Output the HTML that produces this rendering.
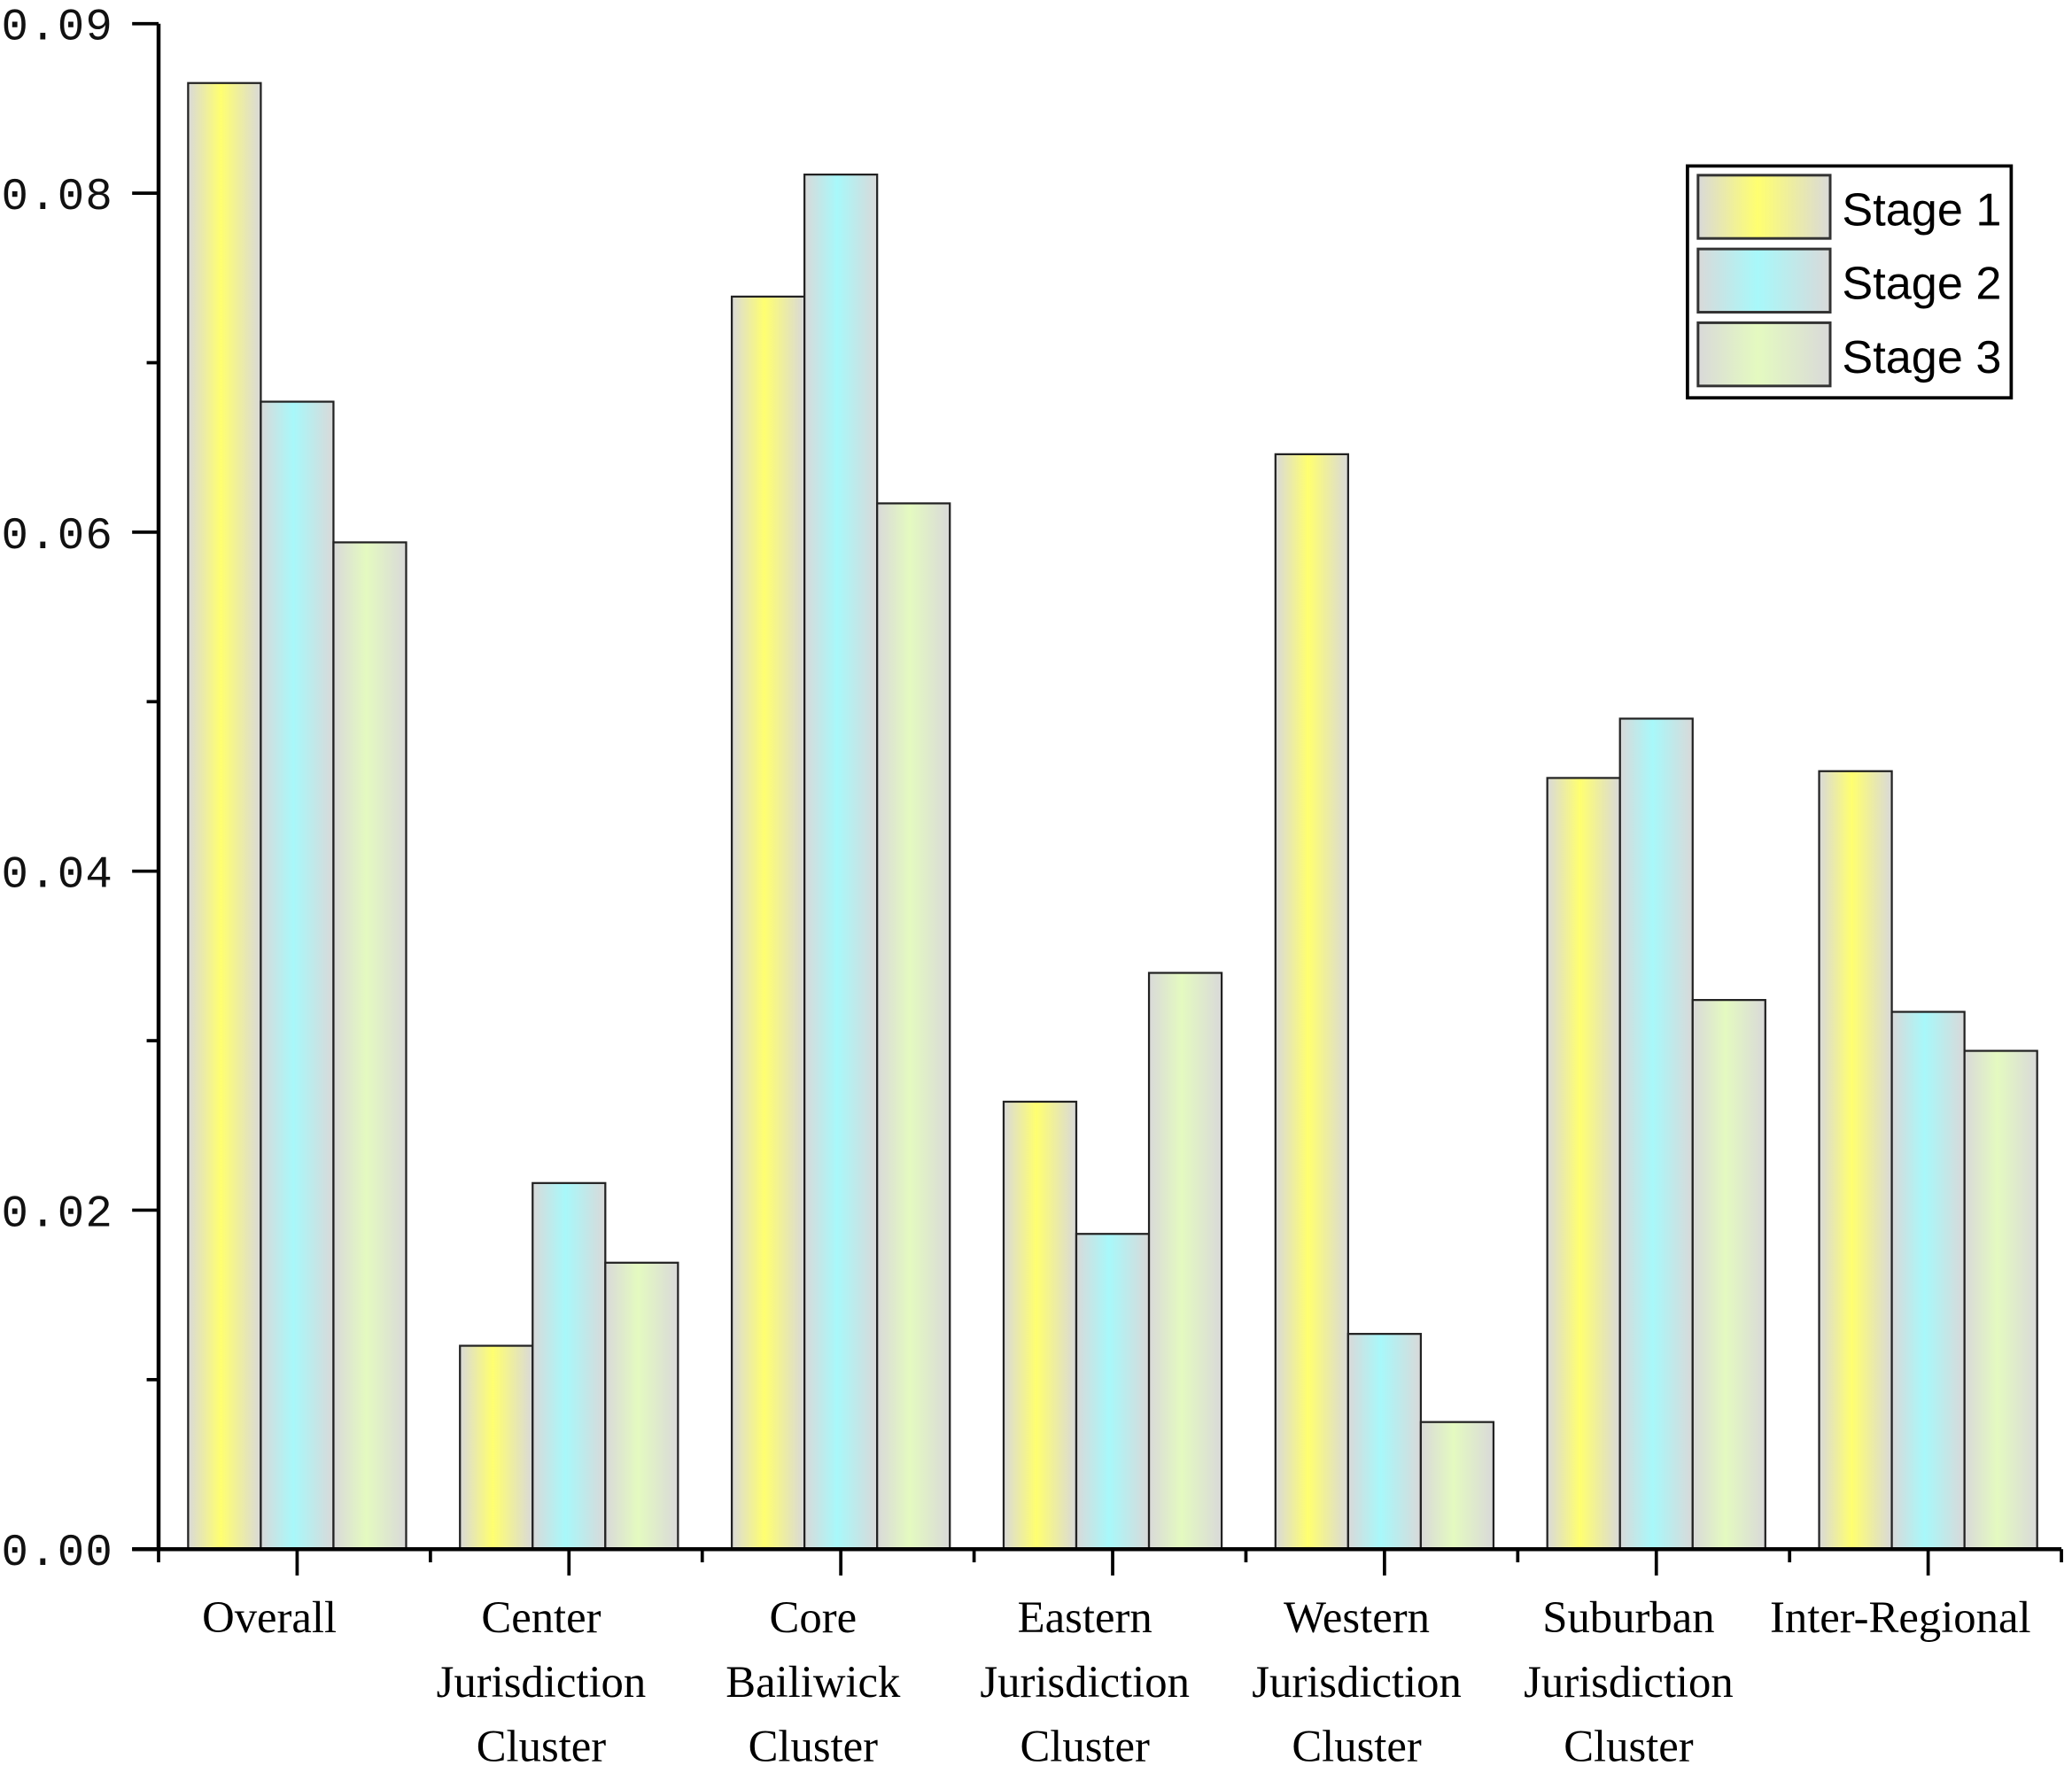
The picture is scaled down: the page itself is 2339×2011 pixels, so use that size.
<!DOCTYPE html>
<html><head><meta charset="utf-8"><style>
html,body{margin:0;padding:0;background:#fff;}
svg{display:block;}
</style></head><body>
<svg id="chart" width="2339" height="2011" viewBox="0 0 1568 1352" preserveAspectRatio="none" xmlns="http://www.w3.org/2000/svg">
<defs>
<linearGradient id="g0" x1="0" x2="1" y1="0" y2="0"><stop offset="0" stop-color="#d9d9d9"/><stop offset="0.45" stop-color="#ffff70"/><stop offset="1" stop-color="#d9d9d9"/></linearGradient>
<linearGradient id="g1" x1="0" x2="1" y1="0" y2="0"><stop offset="0" stop-color="#d9d9d9"/><stop offset="0.45" stop-color="#a8f8fa"/><stop offset="1" stop-color="#d9d9d9"/></linearGradient>
<linearGradient id="g2" x1="0" x2="1" y1="0" y2="0"><stop offset="0" stop-color="#d9d9d9"/><stop offset="0.45" stop-color="#e4fac0"/><stop offset="1" stop-color="#d9d9d9"/></linearGradient>
</defs>
<g id="bars"></g>
<g id="axes"></g>
<g id="legend">
<rect x="1277" y="126" width="245" height="176" fill="#fff" stroke="#000" stroke-width="2.5"/>
</g>
</svg>
<script>
const categories = [["Overall"],["Center","Jurisdiction","Cluster"],["Core","Bailiwick","Cluster"],["Eastern","Jurisdiction","Cluster"],["Western","Jurisdiction","Cluster"],["Suburban","Jurisdiction","Cluster"],["Inter-Regional"]];
const stage1 = [0.0865,0.0120,0.0739,0.0264,0.0646,0.0455,0.0459];
const stage2 = [0.0677,0.0216,0.0811,0.0186,0.0127,0.0490,0.0317];
const stage3 = [0.0594,0.0169,0.0617,0.0340,0.0075,0.0324,0.0294];
const seriesNames = ["Stage 1","Stage 2","Stage 3"];
const yTicks = ["0.00","0.02","0.04","0.06","0.08"];
const yTickValues = [0,0.02,0.04,0.06,0.08];

const NS="http://www.w3.org/2000/svg";
const X0=120, X1=1560, Y0=1176, YTOP=18, YMAX=0.09;
const yScale=v=>Y0-(v/YMAX)*(Y0-YTOP);
const gw=(X1-X0)/categories.length;
const xCenter=i=>X0+(i+0.5)*gw;
const bw=55;
function mk(tag,attrs,parent){const e=document.createElementNS(NS,tag);for(const k in attrs)e.setAttribute(k,attrs[k]);parent.appendChild(e);return e;}
const bars=document.getElementById('bars'), axes=document.getElementById('axes'), legend=document.getElementById('legend');
const series=[stage1,stage2,stage3];
series.forEach((s,si)=>{s.forEach((v,i)=>{
  const x=xCenter(i)-1.5*bw+si*bw+2;
  const r=mk('rect',{x:x,y:yScale(v),width:bw,height:Y0-yScale(v),fill:'url(#g'+si+')',stroke:'#222','stroke-width':1.5},bars);
  
  
});});
let a=mk('line',{x1:X0,y1:YTOP,x2:X0,y2:Y0,stroke:'#000','stroke-width':3},axes);


a=mk('line',{x1:X0-20,y1:Y0,x2:X1,y2:Y0,stroke:'#000','stroke-width':3},axes);


for(let k=0;k<=9;k++){
  const v=k*0.01, y=yScale(v), major=k%2==0||k==9;
  mk('line',{x1:X0-(major?20:9),y1:y,x2:X0,y2:y,stroke:'#000','stroke-width':2.5},axes);
}
const allTicks=yTicks.concat(["0.09"]), allVals=yTickValues.concat([0.09]);
allTicks.forEach((t,i)=>{
  const tx=mk('text',{x:1,y:yScale(allVals[i])+12,'font-family':'Liberation Mono, monospace','font-size':34,fill:'#111','textLength':84},axes);
  tx.textContent=t;
  
  
});
categories.forEach((c,i)=>{
  const x=xCenter(i)+2;
  mk('line',{x1:x,y1:Y0,x2:x,y2:Y0+20,stroke:'#000','stroke-width':2.5},axes);
  mk('line',{x1:X0+i*gw,y1:Y0,x2:X0+i*gw,y2:Y0+10,stroke:'#000','stroke-width':2.5},axes);
  c.forEach((line,j)=>{
    const tx=mk('text',{x:x-21,y:1239+j*49,'text-anchor':'middle','font-family':'Liberation Serif, serif','font-size':34,fill:'#000'},axes);
    tx.textContent=line;
    
    
  });
});
mk('line',{x1:X1,y1:Y0,x2:X1,y2:Y0+10,stroke:'#000','stroke-width':2.5},axes);
seriesNames.forEach((n,i)=>{
  const y=133+i*56;
  const r=mk('rect',{x:1285,y:y,width:100,height:48,fill:'url(#g'+i+')',stroke:'#333','stroke-width':2},legend);
  
  
  const t=mk('text',{x:1394,y:y+38,'font-family':'Liberation Sans, sans-serif','font-size':35,fill:'#000'},legend);
  t.textContent=n;
  
  
});
</script>
</body></html>
